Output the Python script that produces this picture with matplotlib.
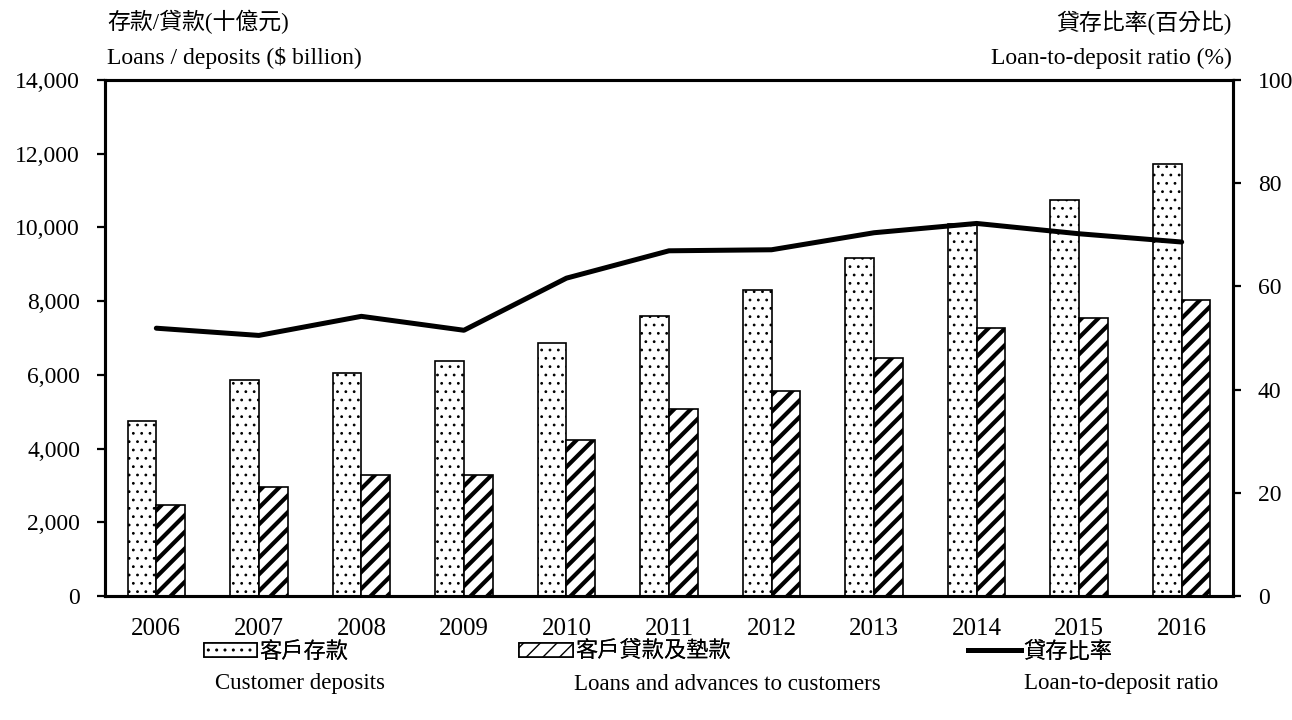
import numpy as np
import matplotlib
matplotlib.use('Agg')
import matplotlib.pyplot as plt
from matplotlib.lines import Line2D

plt.rcParams['font.family'] = ['Liberation Serif', 'Noto Sans CJK TC', 'DejaVu Sans']

years = ['2006', '2007', '2008', '2009', '2010', '2011', '2012', '2013', '2014', '2015', '2016']
deposits = [4757, 5869, 6058, 6381, 6862, 7591, 8297, 9175, 10085, 10750, 11713]
loans = [2468, 2962, 3286, 3289, 4228, 5081, 5567, 6457, 7276, 7535, 8023]
ratio = [51.9, 50.5, 54.2, 51.5, 61.6, 66.9, 67.1, 70.4, 72.2, 70.2, 68.6]

fig = plt.figure(figsize=(12.92, 7.2), dpi=100)
ax = fig.add_axes([0.0813, 0.1722, 0.8730, 0.7167])

x = np.arange(len(years))
w = 0.28

with plt.rc_context({'hatch.linewidth': 0.8}):
    b1 = ax.bar(x - w / 2, deposits, w, color='white', edgecolor='black',
                linewidth=1.2, hatch='..', label='客戶存款')
with plt.rc_context({'hatch.linewidth': 3.0}):
    b2 = ax.bar(x + w / 2, loans, w, color='white', edgecolor='black',
                linewidth=1.2, hatch='//', label='客戶貸款及墊款')

ax.set_xlim(-0.5, len(years) - 0.5)
ax.set_ylim(0, 14000)
ax.set_yticks(np.arange(0, 14001, 2000))
ax.yaxis.set_major_formatter(matplotlib.ticker.FuncFormatter(lambda v, p: f'{int(v):,}'))
ax.set_xticks(x)
ax.set_xticklabels(years)
ax.tick_params(axis='x', length=0, pad=16, labelsize=18)
ax.tick_params(axis='y', direction='out', length=6, width=1.6, pad=12, labelsize=17)

ax2 = ax.twinx()
ax2.plot(x, ratio, color='black', linewidth=3.6, solid_capstyle='round')
ax2.set_ylim(0, 100)
ax2.set_yticks(np.arange(0, 101, 20))
ax2.tick_params(axis='y', direction='out', length=6, width=1.6, pad=12, labelsize=17)

for a in (ax, ax2):
    for s in a.spines.values():
        s.set_linewidth(2.2)

# axis titles
fig.text(0.0828, 0.969, '存款/貸款(十億元)', fontsize=16.5, ha='left', va='center')
fig.text(0.0828, 0.919, 'Loans / deposits ($ billion)', fontsize=17, ha='left', va='center')
fig.text(0.9535, 0.969, '貸存比率(百分比)', fontsize=16.5, ha='right', va='center')
fig.text(0.9535, 0.919, 'Loan-to-deposit ratio (%)', fontsize=17, ha='right', va='center')

# legend
h_line = Line2D([0], [0], color='black', linewidth=3.6)
leg_specs = [
    (b1, '客戶存款', 0.158, 'Customer deposits', 0.232),
    (b2, '客戶貸款及墊款', 0.402, 'Loans and advances to customers', 0.563),
    (h_line, '貸存比率', 0.749, 'Loan-to-deposit ratio', 0.868),
]
for handle, zh, lx, en, ex in leg_specs:
    leg = fig.legend([handle], [zh], loc='center left', bbox_to_anchor=(lx, 0.094),
                     frameon=False, fontsize=16, handlelength=2.4, handleheight=0.6,
                     handletextpad=0.1, borderpad=0, borderaxespad=0)
    fig.add_artist(leg)
    fig.text(ex, 0.050, en, fontsize=16.5, ha='center', va='center')

fig.savefig('out.png', dpi=100)
